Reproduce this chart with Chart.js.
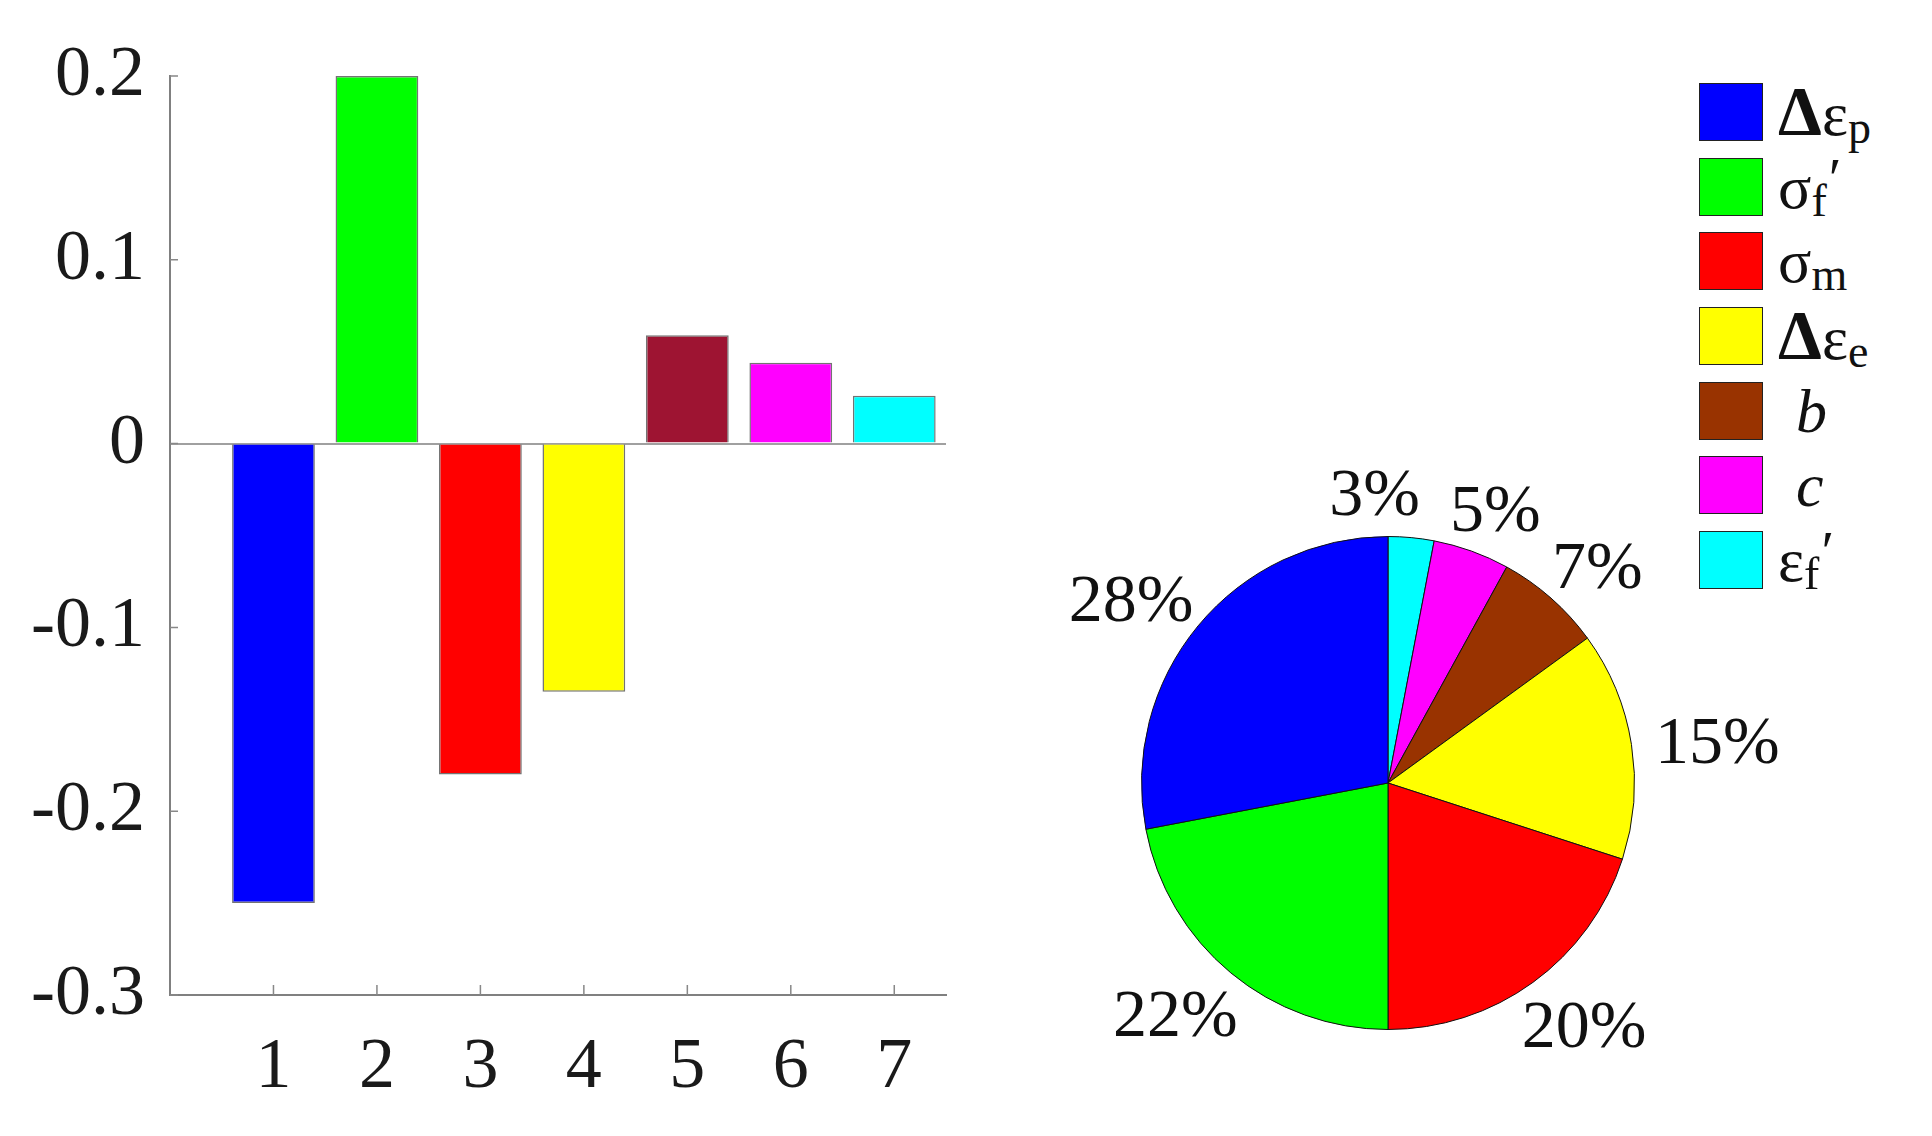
<!DOCTYPE html>
<html>
<head>
<meta charset="utf-8">
<script src="https://cdn.jsdelivr.net/npm/chart.js@4.4.1/dist/chart.umd.min.js"></script>
<style>
  html, body { margin: 0; padding: 0; background: #fff; overflow: hidden; }
  #wrap { position: relative; width: 1932px; height: 1136px; }
  #barBox { position: absolute; left: 0; top: 0; width: 980px; height: 1136px; }
  #pieBox { position: absolute; left: 1008px; top: 433px; width: 880px; height: 700px; }
  #legend { position: absolute; left: 1699px; top: 83px; font-family: "Liberation Serif", serif; color: #111; }
  .item { position: relative; height: 74.7px; }
  .sw { position: absolute; left: 0; top: 0; width: 62px; height: 56px; border: 1px solid #222; }
  .lab { position: absolute; left: 79px; top: 0; line-height: 58px; font-size: 62px; white-space: nowrap; }
  .lab b { font-size: 70px; }
  .lab .s { font-size: 46px; position: relative; top: 8px; }
  .lab .pr { font-size: 58px; position: relative; top: -10px; margin-left: 2px; }
  .lab i { padding-left: 18px; }
</style>
</head>
<body>
<div id="wrap">
  <div id="barBox"><canvas id="barChart"></canvas></div>
  <div id="pieBox"><canvas id="pieChart"></canvas></div>
  <div id="legend"></div>
</div>
<script>
// bar chart data
const categories = [1, 2, 3, 4, 5, 6, 7];
const sensitivity = [-0.25, 0.2, -0.18, -0.135, 0.059, 0.044, 0.026];
const barColors = ["#0000ff", "#00ff00", "#ff0000", "#ffff00", "#9e1432", "#ff00ff", "#00ffff"];
const yTicks = [-0.3, -0.2, -0.1, 0, 0.1, 0.2];

// pie chart data (legend order)
const paramLabels = ["Δεp", "σf′", "σm", "Δεe", "b", "c", "εf′"];
const legendMarkup = [
  "<b>Δ</b>ε<span class='s'>p</span>",
  "σ<span class='s'>f</span><span class='pr'>′</span>",
  "σ<span class='s'>m</span>",
  "<b>Δ</b>ε<span class='s'>e</span>",
  "<i>b</i>",
  "<i>c</i>",
  "ε<span class='s'>f</span><span class='pr'>′</span>",
];
const shares = [28, 22, 20, 15, 7, 5, 3];
const pieColors = ["#0000ff", "#00ff00", "#ff0000", "#ffff00", "#993300", "#ff00ff", "#00ffff"];

const serif = "'Liberation Serif', 'Times New Roman', serif";

// small inward ticks like the original figure
const innerTicks = {
  id: "innerTicks",
  afterDraw(chart) {
    const { ctx, chartArea, scales: { x, y } } = chart;
    ctx.save();
    ctx.strokeStyle = "#888";
    ctx.lineWidth = 1.5;
    ctx.beginPath();
    x.ticks.forEach(function (t) {
      const px = x.getPixelForValue(t.value);
      ctx.moveTo(px, chartArea.bottom);
      ctx.lineTo(px, chartArea.bottom - 10);
    });
    y.ticks.forEach(function (t) {
      const py = y.getPixelForValue(t.value);
      ctx.moveTo(chartArea.left, py);
      ctx.lineTo(chartArea.left + 8, py);
    });
    ctx.stroke();
    ctx.restore();
  },
};

new Chart(document.getElementById("barChart"), {
  type: "bar",
  data: {
    datasets: [
      {
        data: sensitivity.map(function (v, i) { return { x: categories[i], y: v }; }),
        backgroundColor: barColors,
        borderColor: "rgba(0,0,0,0.55)",
        borderWidth: 1.5,
        barPercentage: 0.8,
        categoryPercentage: 1,
      },
    ],
  },
  options: {
    responsive: true,
    maintainAspectRatio: false,
    animation: false,
    layout: { padding: { top: 76, right: 34 } },
    plugins: { legend: { display: false }, tooltip: { enabled: false } },
    scales: {
      x: {
        type: "linear",
        offset: false,
        min: 0,
        max: 7.5,
        afterBuildTicks: function (scale) {
          scale.ticks = categories.map(function (v) { return { value: v }; });
        },
        afterFit: function (scale) { scale.height = 141; },
        grid: { drawOnChartArea: false, drawTicks: false },
        border: { color: "#808080", width: 2 },
        ticks: { padding: 30, color: "#1a1a1a", font: { family: serif, size: 72 } },
      },
      y: {
        min: -0.3,
        max: 0.2,
        afterBuildTicks: function (scale) {
          scale.ticks = yTicks.map(function (v) { return { value: v }; });
        },
        afterFit: function (scale) { scale.width = 170; },
        grid: {
          drawTicks: false,
          color: function (c) { return c.tick && c.tick.value === 0 ? "#a0a0a0" : "rgba(0,0,0,0)"; },
          lineWidth: 2,
        },
        border: { color: "#808080", width: 2 },
        ticks: {
          padding: 25,
          color: "#1a1a1a",
          font: { family: serif, size: 72 },
          callback: function (v) { return String(Math.round(v * 10) / 10); },
        },
      },
    },
  },
  plugins: [innerTicks],
});

// percentage labels: anchor at 1.1 R on the mid angle, box pushed outward
// so it sits just outside the rim; a label is moved left if it hits the next one
const pctLabels = {
  id: "pctLabels",
  afterDatasetsDraw(chart) {
    const ctx = chart.ctx;
    const meta = chart.getDatasetMeta(0);
    const vals = chart.data.datasets[0].data;
    const fs = 68;
    ctx.save();
    ctx.font = fs + "px " + serif;
    ctx.fillStyle = "#111";
    ctx.textAlign = "center";
    ctx.textBaseline = "middle";
    const boxes = meta.data.map(function (arc, i) {
      const p = arc.getProps(["x", "y", "startAngle", "endAngle", "outerRadius"], true);
      const mid = (p.startAngle + p.endAngle) / 2;
      const dx = Math.cos(mid), dy = Math.sin(mid);
      const r = p.outerRadius * 1.1;
      const text = vals[i] + "%";
      const w = ctx.measureText(text).width, h = fs * 0.7;
      return { text: text, x: p.x + dx * r + dx * w / 2, y: p.y + dy * r + dy * h / 2 + 8, w: w, h: h };
    });
    for (let i = 1; i < boxes.length; i++) {
      const a = boxes[i - 1], b = boxes[i];
      const ox = (a.w + b.w) / 2 + 30 - Math.abs(b.x - a.x);
      const oy = (a.h + b.h) / 2 - Math.abs(b.y - a.y);
      if (ox > 0 && oy > 0 && a.x < b.x) a.x -= ox;
    }
    boxes.forEach(function (b) { ctx.fillText(b.text, b.x, b.y); });
    ctx.restore();
  },
};

// slices run clockwise from the top in reverse legend order
new Chart(document.getElementById("pieChart"), {
  type: "pie",
  data: {
    labels: paramLabels.slice().reverse(),
    datasets: [
      {
        data: shares.slice().reverse(),
        backgroundColor: pieColors.slice().reverse(),
        borderColor: "#111",
        borderWidth: 1,
      },
    ],
  },
  options: {
    responsive: true,
    maintainAspectRatio: false,
    animation: false,
    layout: { padding: { left: 133, right: 253, top: 103, bottom: 103 } },
    plugins: { legend: { display: false }, tooltip: { enabled: false } },
  },
  plugins: [pctLabels],
});

// legend
const legendEl = document.getElementById("legend");
paramLabels.forEach(function (name, i) {
  const row = document.createElement("div");
  row.className = "item";
  row.innerHTML = "<div class='sw' style='background:" + pieColors[i] + "'></div>" +
    "<div class='lab'>" + legendMarkup[i] + "</div>";
  legendEl.appendChild(row);
});
</script>
</body>
</html>
